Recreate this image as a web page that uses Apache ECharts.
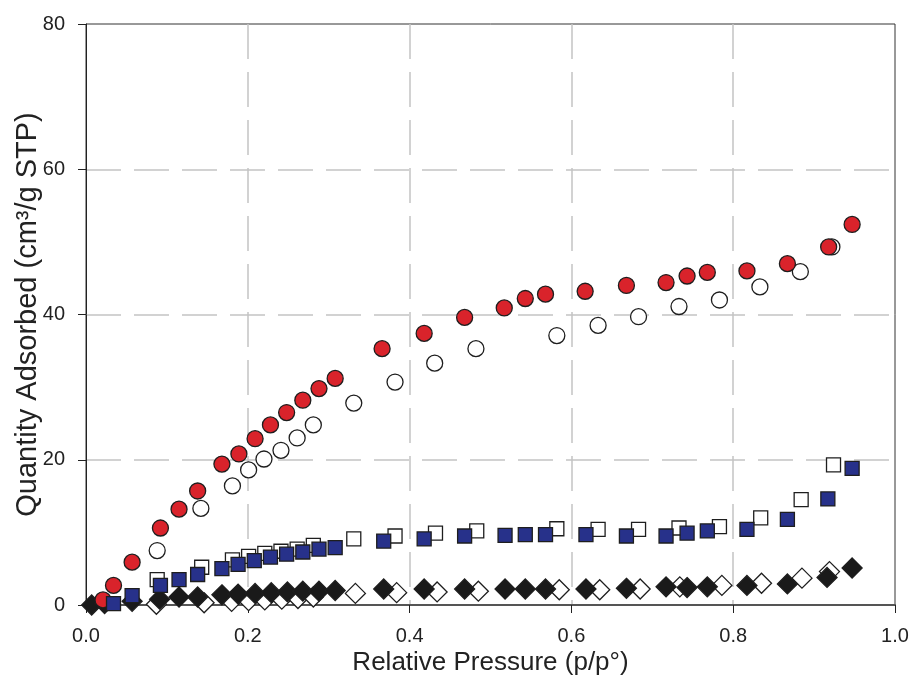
<!DOCTYPE html>
<html>
<head>
<meta charset="utf-8">
<script src="https://cdn.jsdelivr.net/npm/echarts@6/dist/echarts.min.js"></script>
<style>html,body{margin:0;padding:0;background:#fff}#c{width:916px;height:681px}</style>
</head>
<body>
<div id="c"></div>
<script>
// Relative pressure (x) and quantity adsorbed (y)
const redAdsX = [0.021,0.034,0.057,0.092,0.115,0.138,0.168,0.189,0.209,0.228,0.248,0.268,0.288,0.308,0.366,0.418,0.468,0.517,0.543,0.568,0.617,0.668,0.717,0.743,0.768,0.817,0.867,0.918,0.947];
const redAdsY = [0.7,2.7,5.9,10.6,13.2,15.7,19.4,20.8,22.9,24.8,26.5,28.2,29.8,31.2,35.3,37.4,39.6,40.9,42.2,42.8,43.2,44.0,44.4,45.3,45.8,46.0,47.0,49.3,52.4];
const redDesX = [0.088,0.142,0.181,0.201,0.220,0.241,0.261,0.281,0.331,0.382,0.431,0.482,0.582,0.633,0.683,0.733,0.783,0.833,0.883,0.922];
const redDesY = [7.5,13.3,16.4,18.6,20.1,21.3,23.0,24.8,27.8,30.7,33.3,35.3,37.1,38.5,39.7,41.1,42.0,43.8,45.9,49.3];
const navyAdsX = [0.034,0.057,0.092,0.115,0.138,0.168,0.188,0.208,0.228,0.248,0.268,0.288,0.308,0.368,0.418,0.468,0.518,0.543,0.568,0.618,0.668,0.717,0.743,0.768,0.817,0.867,0.917,0.947];
const navyAdsY = [0.2,1.3,2.7,3.5,4.2,5.0,5.6,6.1,6.6,7.0,7.3,7.7,7.9,8.8,9.1,9.5,9.6,9.7,9.7,9.7,9.5,9.5,9.9,10.2,10.4,11.8,14.6,18.8];
const navyDesX = [0.088,0.143,0.181,0.201,0.221,0.241,0.261,0.281,0.331,0.382,0.432,0.483,0.582,0.633,0.683,0.733,0.783,0.834,0.884,0.924];
const navyDesY = [3.5,5.2,6.2,6.7,7.1,7.4,7.7,8.2,9.1,9.5,9.9,10.2,10.5,10.4,10.4,10.6,10.8,12.0,14.5,19.3];
const blackAdsX = [0.007,0.023,0.057,0.091,0.115,0.138,0.168,0.188,0.209,0.229,0.249,0.268,0.288,0.308,0.368,0.418,0.468,0.518,0.543,0.568,0.618,0.668,0.717,0.743,0.768,0.817,0.867,0.916,0.947];
const blackAdsY = [0.0,0.2,0.5,0.8,1.1,1.1,1.4,1.5,1.6,1.7,1.8,1.9,1.9,2.0,2.2,2.2,2.2,2.2,2.2,2.2,2.2,2.3,2.5,2.4,2.5,2.7,2.9,3.8,5.1];
const blackDesX = [0.087,0.146,0.180,0.201,0.221,0.242,0.262,0.281,0.333,0.384,0.434,0.485,0.585,0.635,0.685,0.734,0.786,0.835,0.885,0.919];
const blackDesY = [0.1,0.3,0.5,0.6,0.7,0.8,0.9,1.1,1.6,1.7,1.8,1.9,2.1,2.1,2.2,2.5,2.7,3.0,3.7,4.6];
const xTicks = [0, 0.2, 0.4, 0.6, 0.8, 1.0];
const yTicks = [0, 20, 40, 60, 80];

const pts = (xs, ys) => xs.map((x, i) => [x, ys[i]]);
const FONT = '"Liberation Sans", Arial, sans-serif';
const edge = '#1e1e1e';

function sc(data, symbol, size, fill, z) {
  return {
    type: 'scatter', data, symbol, symbolSize: size, z,
    itemStyle: { color: fill, borderColor: edge, borderWidth: 1.3, opacity: 1 },
    emphasis: { disabled: true }, animation: false
  };
}

const chart = echarts.init(document.getElementById('c'), null, { renderer: 'canvas' });
chart.setOption({
  backgroundColor: '#fff',
  animation: false,
  grid: { left: 86, right: 21, top: 24, bottom: 76, containLabel: false, outerBoundsMode: 'none', show: true, borderColor: '#333', borderWidth: 1, backgroundColor: 'transparent' },
  xAxis: {
    type: 'value', min: xTicks[0], max: xTicks[xTicks.length - 1], interval: 0.2,
    name: 'Relative Pressure (p/p\u00B0)', nameLocation: 'middle', nameGap: 45, nameMoveOverlap: false,
    nameTextStyle: { fontFamily: FONT, fontSize: 26, color: '#222' },
    axisLine: { show: true, lineStyle: { color: '#555', width: 2 } },
    axisTick: { show: true, inside: false, length: 8, lineStyle: { color: '#222', width: 1 } },
    axisLabel: { fontFamily: FONT, fontSize: 20, color: '#222', margin: 21, formatter: v => v.toFixed(1) },
    splitLine: { show: true, showMinLine: false, showMaxLine: false, lineStyle: { color: '#c4c4c4', width: 1.5, type: [35, 13] } }
  },
  yAxis: {
    type: 'value', min: yTicks[0], max: yTicks[yTicks.length - 1], interval: 20,
    name: 'Quantity Adsorbed (cm\u00B3/g STP)', nameLocation: 'middle', nameGap: 44, nameMoveOverlap: false,
    nameTextStyle: { fontFamily: FONT, fontSize: 29, color: '#222' },
    axisLine: { show: true, lineStyle: { color: '#222', width: 1 } },
    axisTick: { show: true, inside: false, length: 8, lineStyle: { color: '#222', width: 1 } },
    axisLabel: { fontFamily: FONT, fontSize: 20, color: '#222', margin: 21 },
    splitLine: { show: true, showMinLine: false, showMaxLine: false, lineStyle: { color: '#c4c4c4', width: 1.5, type: [35, 13] } }
  },
  series: [
    sc(pts(blackDesX, blackDesY), 'diamond', [20, 20], '#ffffff', 2),
    sc(pts(blackAdsX, blackAdsY), 'diamond', [20, 20], '#1a1a1a', 3),
    sc(pts(redDesX, redDesY), 'circle', 16, '#ffffff', 4),
    sc(pts(redAdsX, redAdsY), 'circle', 16, '#d9232b', 5),
    sc(pts(navyDesX, navyDesY), 'rect', 14, '#ffffff', 6),
    sc(pts(navyAdsX, navyAdsY), 'rect', 14, '#27318a', 7)
  ]
});
</script>
</body>
</html>
